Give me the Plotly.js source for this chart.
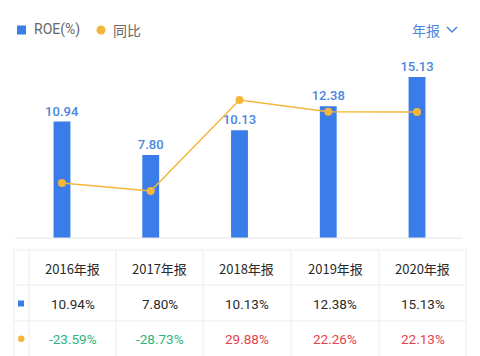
<!DOCTYPE html>
<html>
<head>
<meta charset="utf-8">
<script src="https://cdn.plot.ly/plotly-3.0.1.min.js"></script>
<style>
html,body{margin:0;padding:0;background:#fff;}
#chart{width:480px;height:356px;}
</style>
</head>
<body>
<div id="chart"></div>
<script>
const years = ['2016年报', '2017年报', '2018年报', '2019年报', '2020年报'];
const roe = [10.94, 7.80, 10.13, 12.38, 15.13];
const yoy = [-23.59, -28.73, 29.88, 22.26, 22.13];

const W = 480, H = 356;
const px = x => x / W;
const py = y => 1 - y / H;

const BLUE = '#3a7de8';
const ORANGE = '#f4b63a';
const CN = '"Noto Sans CJK SC", "Noto Sans", sans-serif';
const NUM = 'Roboto, "Noto Sans", sans-serif';

const traces = [
  {
    type: 'bar', x: years, y: roe, width: 0.19,
    marker: {color: BLUE},
    text: roe.map(v => v.toFixed(2)), textposition: 'outside', constraintext: 'none',
    textfont: {color: '#4a86e0', size: 13, family: NUM, weight: 500},
    cliponaxis: false, hoverinfo: 'none'
  },
  {
    type: 'scatter', mode: 'lines+markers', x: years, y: yoy, yaxis: 'y2',
    line: {color: ORANGE, width: 1.5},
    marker: {color: ORANGE, size: 8},
    hoverinfo: 'none'
  }
];

const shapes = [];
const annotations = [];

// baseline under chart
shapes.push({type: 'line', xref: 'paper', yref: 'paper', x0: px(15), x1: px(462), y0: py(238), y1: py(238), line: {color: '#e6e6e6', width: 1}});

// legend
shapes.push({type: 'rect', xref: 'paper', yref: 'paper', x0: px(17), x1: px(26), y0: py(25.5), y1: py(34.5), fillcolor: BLUE, line: {width: 0}});
annotations.push({xref: 'paper', yref: 'paper', x: px(32), y: py(30), xanchor: 'left', yanchor: 'middle', text: 'ROE(%)', showarrow: false, font: {size: 14, color: '#666', family: NUM}});
shapes.push({type: 'circle', xref: 'paper', yref: 'paper', x0: px(96.5), x1: px(105.5), y0: py(25.5), y1: py(34.5), fillcolor: ORANGE, line: {width: 0}});
annotations.push({xref: 'paper', yref: 'paper', x: px(111), y: py(30), xanchor: 'left', yanchor: 'middle', text: '同比', showarrow: false, font: {size: 14, color: '#666', family: CN}});

// period selector
annotations.push({xref: 'paper', yref: 'paper', x: px(426), y: py(30), xanchor: 'center', yanchor: 'middle', text: '年报', showarrow: false, font: {size: 14, color: '#4a86e0', family: CN}});
shapes.push({type: 'path', xref: 'paper', yref: 'paper', path: `M ${px(447)} ${py(27)} L ${px(452)} ${py(32)} L ${px(457)} ${py(27)}`, line: {color: '#4a86e0', width: 1.5}});

// table grid
const colX = [14, 29, 116, 203, 291, 379, 466];
const rowY = [250, 285, 321, 358];
const GRID = '#ececec';
colX.forEach(x => shapes.push({type: 'line', xref: 'paper', yref: 'paper', x0: px(x), x1: px(x), y0: py(rowY[0]), y1: py(rowY[3]), line: {color: GRID, width: 1}}));
rowY.forEach(y => shapes.push({type: 'line', xref: 'paper', yref: 'paper', x0: px(colX[0]), x1: px(colX[6]), y0: py(y), y1: py(y), line: {color: GRID, width: 1}}));

// table row markers
shapes.push({type: 'rect', xref: 'paper', yref: 'paper', x0: px(18), x1: px(24), y0: py(300.5), y1: py(306.5), fillcolor: BLUE, line: {width: 0}});
shapes.push({type: 'circle', xref: 'paper', yref: 'paper', x0: px(18), x1: px(24.5), y0: py(335.5), y1: py(342), fillcolor: ORANGE, line: {width: 0}});

const rowCY = [268, 304, 339];
years.forEach((yr, i) => {
  const cx = (colX[i + 1] + colX[i + 2]) / 2;
  annotations.push({xref: 'paper', yref: 'paper', x: px(cx), y: py(rowCY[0]), xanchor: 'center', yanchor: 'middle', text: yr, showarrow: false, font: {size: 13, color: '#2a2a2a', family: CN}});
  annotations.push({xref: 'paper', yref: 'paper', x: px(cx), y: py(rowCY[1]), xanchor: 'center', yanchor: 'middle', text: roe[i].toFixed(2) + '%', showarrow: false, font: {size: 13.5, color: '#2a2a2a', family: NUM}});
  annotations.push({xref: 'paper', yref: 'paper', x: px(cx), y: py(rowCY[2]), xanchor: 'center', yanchor: 'middle', text: yoy[i].toFixed(2) + '%', showarrow: false, font: {size: 13.5, color: yoy[i] < 0 ? '#2bb57c' : '#e8434b', family: NUM}});
});

const layout = {
  width: W, height: H,
  margin: {l: 0, r: 0, t: 0, b: 0},
  paper_bgcolor: '#fff', plot_bgcolor: '#fff',
  showlegend: false,
  xaxis: {domain: [px(17.6), px(461.4)], type: 'category', range: [-0.5, 4.5], showticklabels: false, showgrid: false, zeroline: false, showline: false, ticks: ''},
  yaxis: {domain: [py(238), py(60)], range: [0, 16.73], showticklabels: false, showgrid: false, zeroline: false, showline: false},
  yaxis2: {overlaying: 'y', range: [-58.98, 55.64], showticklabels: false, showgrid: false, zeroline: false, showline: false},
  shapes: shapes,
  annotations: annotations
};

Plotly.newPlot('chart', traces, layout, {displayModeBar: false, staticPlot: true});
</script>
</body>
</html>
